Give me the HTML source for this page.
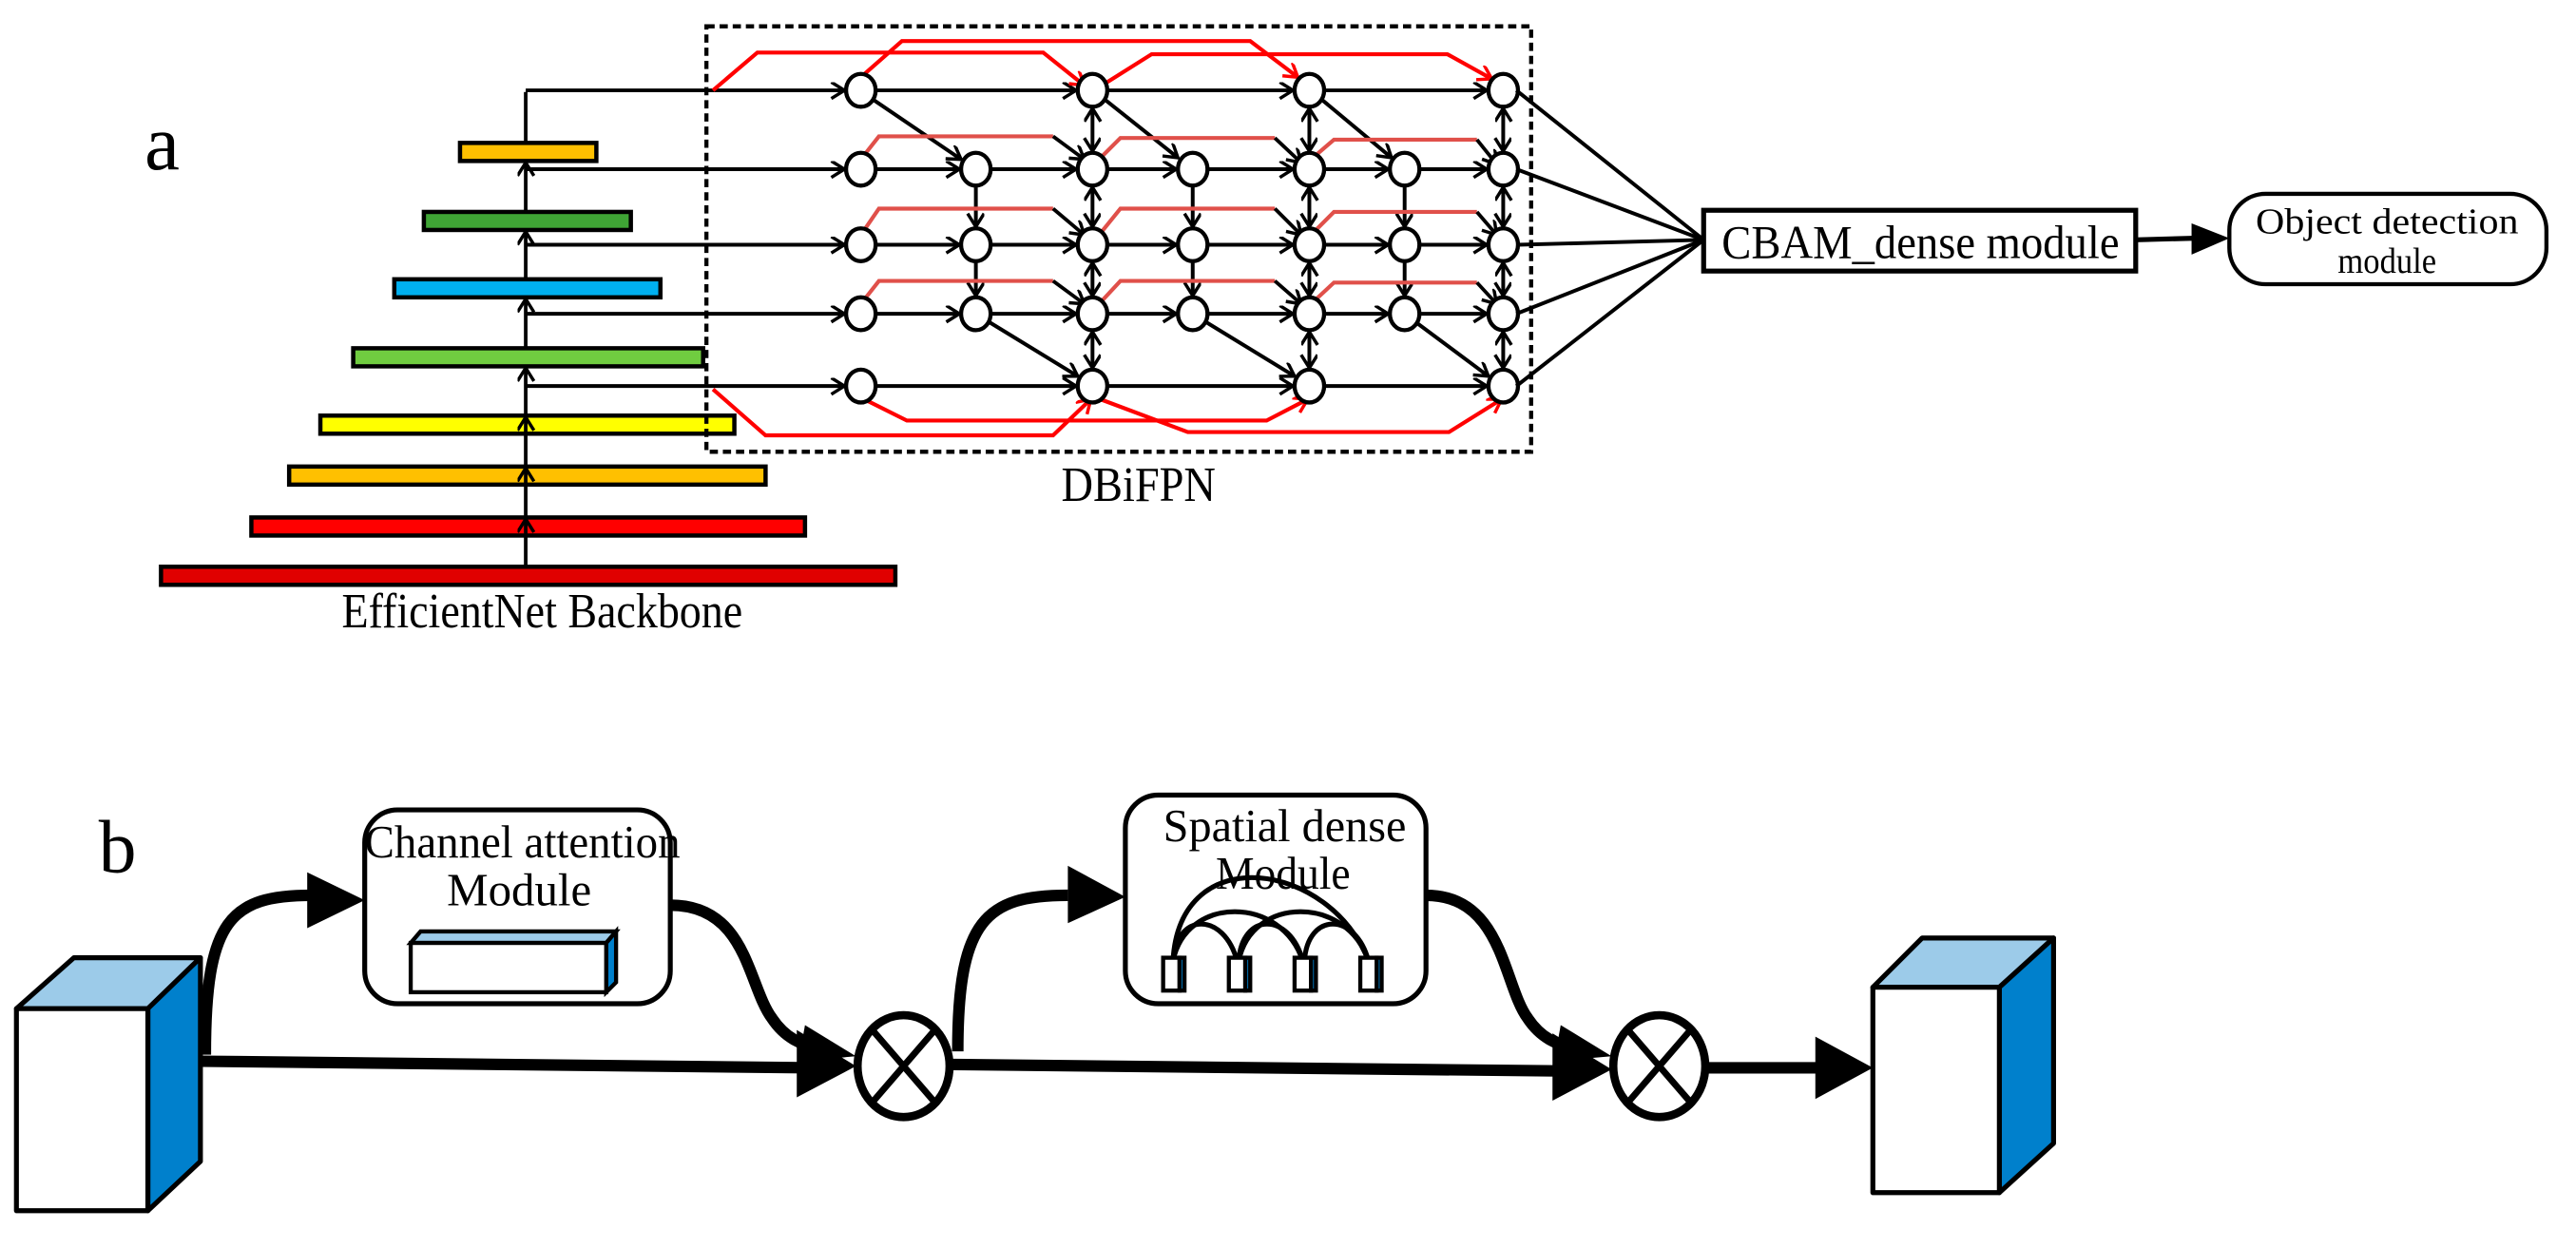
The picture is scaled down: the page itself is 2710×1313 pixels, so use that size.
<!DOCTYPE html>
<html><head><meta charset="utf-8"><style>html,body{margin:0;padding:0;background:#fff}svg{display:block}</style></head>
<body>
<svg width="2710" height="1313" viewBox="0 0 1568 759.7" xmlns="http://www.w3.org/2000/svg" font-family="'Liberation Serif', serif">
<defs>
<marker id="k" markerUnits="userSpaceOnUse" markerWidth="12" markerHeight="12" refX="9" refY="5" orient="auto-start-reverse"><path d="M1,0 L9,5 L1,10" fill="none" stroke="#000" stroke-width="2"/></marker>
<marker id="r" markerUnits="userSpaceOnUse" markerWidth="12" markerHeight="12" refX="9" refY="5" orient="auto"><path d="M1,0 L9,5 L1,10" fill="none" stroke="#f00" stroke-width="2"/></marker>
<marker id="r2" markerUnits="userSpaceOnUse" markerWidth="12" markerHeight="12" refX="9" refY="5" orient="auto"><path d="M1,0 L9,5 L1,10" fill="none" stroke="#000" stroke-width="2"/></marker>
</defs>

<text x="88" y="103" font-size="48">a</text>

<g stroke="#000" stroke-width="2.6">
<rect x="280" y="87" width="83" height="11" fill="#ffc000"/>
<rect x="258" y="129" width="126" height="11" fill="#3fa535"/>
<rect x="240" y="170" width="162" height="11" fill="#00b0f0"/>
<rect x="215" y="212" width="213" height="11" fill="#70cc40"/>
<rect x="195" y="253" width="252" height="11" fill="#ffff00"/>
<rect x="176" y="284" width="290" height="11" fill="#ffc000"/>
<rect x="153" y="315" width="337" height="11" fill="#ff0000"/>
<rect x="98" y="345" width="447" height="11" fill="#e00000"/>
</g>
<g stroke="#000" stroke-width="2.2" fill="none" marker-end="url(#k)">
<path d="M320,345 V316"/><path d="M320,315 V285"/><path d="M320,284 V254"/><path d="M320,253 V224"/>
<path d="M320,212 V182"/><path d="M320,170 V141"/><path d="M320,129 V99"/><path d="M320,87 V56" marker-end="none"/>
</g>

<text x="330" y="382" font-size="30" text-anchor="middle" textLength="244" lengthAdjust="spacingAndGlyphs">EfficientNet Backbone</text>

<rect x="430" y="16" width="502" height="259" fill="none" stroke="#000" stroke-width="2.5" stroke-dasharray="5,3"/>
<text x="646" y="305" font-size="30" textLength="94" lengthAdjust="spacingAndGlyphs">DBiFPN</text>

<g stroke="#000" stroke-width="2.3" fill="none" marker-end="url(#k)">
<path d="M320,55 H514"/><path d="M533,55 H655"/><path d="M674,55 H787"/><path d="M806,55 H905"/>
<path d="M320,235 H514"/><path d="M533,235 H655"/><path d="M674,235 H787"/><path d="M806,235 H905"/>
<path d="M320,103 H514"/><path d="M533,103 H584"/><path d="M603,103 H655"/><path d="M674,103 H716"/><path d="M735,103 H787"/><path d="M806,103 H845"/><path d="M864,103 H905"/>
<path d="M320,149 H514"/><path d="M533,149 H584"/><path d="M603,149 H655"/><path d="M674,149 H716"/><path d="M735,149 H787"/><path d="M806,149 H845"/><path d="M864,149 H905"/>
<path d="M320,191 H514"/><path d="M533,191 H584"/><path d="M603,191 H655"/><path d="M674,191 H716"/><path d="M735,191 H787"/><path d="M806,191 H845"/><path d="M864,191 H905"/>
<path d="M594,114 V138"/><path d="M594,160 V180"/>
<path d="M726,114 V138"/><path d="M726,160 V180"/>
<path d="M855,114 V138"/><path d="M855,160 V180"/>
<path d="M532,61 L585,97"/><path d="M673,61 L717,96"/><path d="M805,61 L847,96"/>
<path d="M602,196 L656,229"/><path d="M734,196 L788,229"/><path d="M863,197 L906,229"/>
</g>
<g stroke="#000" stroke-width="2.3" fill="none" marker-start="url(#k)" marker-end="url(#k)">
<path d="M665,66 V92"/><path d="M665,114 V138"/><path d="M665,160 V180"/><path d="M665,202 V224"/>
<path d="M797,66 V92"/><path d="M797,114 V138"/><path d="M797,160 V180"/><path d="M797,202 V224"/>
<path d="M915,66 V92"/><path d="M915,114 V138"/><path d="M915,160 V180"/><path d="M915,202 V224"/>
</g>

<g stroke="#ff0000" stroke-width="2.4" fill="none" marker-end="url(#r)">
<path d="M434,55 L461,32 L635,32 L660,52"/>
<path d="M524,47 L549,25 L761,25 L790,47"/>
<path d="M674,50 L701,33 L881,33 L908,48"/>
<path d="M434,237 L466,265 L641,265 L664,243"/>
<path d="M524,242 L552,256 L771,256 L796,243"/>
<path d="M667,242 L723,263 L882,263 L914,243"/>
</g>
<g stroke="#e0504a" stroke-width="2.4" fill="none">
<path d="M524,97 L535,83 L641,83"/><path d="M669,97 L682,84 L776,84"/><path d="M798,97 L812,85 L899,85"/>
<path d="M524,143 L535,127 L641,127"/><path d="M669,143 L682,127 L776,127"/><path d="M798,143 L812,129 L899,129"/>
<path d="M524,185 L535,171 L641,171"/><path d="M669,185 L682,171 L776,171"/><path d="M798,185 L812,172 L899,172"/>
</g>
<g stroke="#000" stroke-width="2.2" fill="none" marker-end="url(#r2)">
<path d="M641,83 L660,97"/><path d="M776,84 L792,99"/><path d="M899,85 L911,100"/>
<path d="M641,127 L660,143"/><path d="M776,127 L792,143"/><path d="M899,129 L911,143"/>
<path d="M641,171 L660,185"/><path d="M776,171 L792,185"/><path d="M899,172 L911,185"/>
</g>

<g fill="#fff" stroke="#000" stroke-width="2.5">
<ellipse cx="524" cy="55" rx="9" ry="10"/><ellipse cx="665" cy="55" rx="9" ry="10"/><ellipse cx="797" cy="55" rx="9" ry="10"/><ellipse cx="915" cy="55" rx="9" ry="10"/>
<ellipse cx="524" cy="235" rx="9" ry="10"/><ellipse cx="665" cy="235" rx="9" ry="10"/><ellipse cx="797" cy="235" rx="9" ry="10"/><ellipse cx="915" cy="235" rx="9" ry="10"/>
<ellipse cx="524" cy="103" rx="9" ry="10"/><ellipse cx="594" cy="103" rx="9" ry="10"/><ellipse cx="665" cy="103" rx="9" ry="10"/><ellipse cx="726" cy="103" rx="9" ry="10"/><ellipse cx="797" cy="103" rx="9" ry="10"/><ellipse cx="855" cy="103" rx="9" ry="10"/><ellipse cx="915" cy="103" rx="9" ry="10"/>
<ellipse cx="524" cy="149" rx="9" ry="10"/><ellipse cx="594" cy="149" rx="9" ry="10"/><ellipse cx="665" cy="149" rx="9" ry="10"/><ellipse cx="726" cy="149" rx="9" ry="10"/><ellipse cx="797" cy="149" rx="9" ry="10"/><ellipse cx="855" cy="149" rx="9" ry="10"/><ellipse cx="915" cy="149" rx="9" ry="10"/>
<ellipse cx="524" cy="191" rx="9" ry="10"/><ellipse cx="594" cy="191" rx="9" ry="10"/><ellipse cx="665" cy="191" rx="9" ry="10"/><ellipse cx="726" cy="191" rx="9" ry="10"/><ellipse cx="797" cy="191" rx="9" ry="10"/><ellipse cx="855" cy="191" rx="9" ry="10"/><ellipse cx="915" cy="191" rx="9" ry="10"/>
</g>

<g stroke="#000" stroke-width="2.3">
<path d="M923,55 L1037,146"/><path d="M923,103 L1037,146"/><path d="M924,149 L1037,146"/><path d="M923,191 L1037,146"/><path d="M923,235 L1037,146"/>
</g>
<rect x="1037" y="128" width="263" height="37" fill="#fff" stroke="#000" stroke-width="3"/>
<text x="1048" y="157" font-size="29" textLength="242" lengthAdjust="spacingAndGlyphs">CBAM_dense module</text>
<path d="M1300,146 L1336,145" stroke="#000" stroke-width="3"/>
<path d="M1334,136 L1357,145 L1334,155 Z" fill="#000"/>
<rect x="1357" y="118" width="193" height="55" rx="22" fill="#fff" stroke="#000" stroke-width="2.5"/>
<text x="1453" y="142" font-size="22" text-anchor="middle" textLength="160" lengthAdjust="spacingAndGlyphs">Object detection</text>
<text x="1453" y="166" font-size="22" text-anchor="middle" textLength="60" lengthAdjust="spacingAndGlyphs">module</text>

<text x="60" y="531" font-size="46">b</text>

<g stroke="#000" stroke-width="3" stroke-linejoin="round">
<polygon points="10,614 45,583 122,583 90,614" fill="#9ccbe9"/>
<polygon points="90,614 122,583 122,707 90,737" fill="#0080cc"/>
<rect x="10" y="614" width="80" height="123" fill="#fff"/>
<polygon points="1140,601 1170,571 1250,571 1217,601" fill="#9ccbe9"/>
<polygon points="1217,601 1250,571 1250,696 1217,726" fill="#0080cc"/>
<rect x="1140" y="601" width="77" height="125" fill="#fff"/>
</g>

<rect x="222" y="493" width="186" height="118" rx="20" fill="#fff" stroke="#000" stroke-width="3"/>
<text x="222" y="522" font-size="28" textLength="192" lengthAdjust="spacingAndGlyphs">Channel attention</text>
<text x="272" y="551" font-size="28" textLength="88" lengthAdjust="spacingAndGlyphs">Module</text>
<g stroke="#000" stroke-width="2.5">
<polygon points="250,574 256,567 375,567 369,574" fill="#9ccbe9"/>
<polygon points="369,574 375,567 375,598 369,604" fill="#0080cc"/>
<rect x="250" y="574" width="119" height="30" fill="#fff"/>
</g>

<rect x="685" y="484" width="183" height="127" rx="20" fill="#fff" stroke="#000" stroke-width="3"/>
<text x="708" y="512" font-size="28" textLength="148" lengthAdjust="spacingAndGlyphs">Spatial dense</text>
<text x="740" y="541" font-size="28" textLength="82" lengthAdjust="spacingAndGlyphs">Module</text>
<g stroke="#000" stroke-width="3" fill="none">
<path d="M714,585 C716,555 745,555 753,585"/>
<path d="M754,585 C756,555 785,555 793,585"/>
<path d="M794,585 C796,555 825,555 833,585"/>
<path d="M714,585 C722,545 780,545 793,585"/>
<path d="M754,585 C762,545 820,545 833,585"/>
<path d="M714,585 C718,510 810,525 833,585"/>
</g>
<g stroke="#000" stroke-width="2.5">
<rect x="708" y="583" width="10" height="20" fill="#fff"/><rect x="718" y="583" width="3" height="20" fill="#0080cc"/>
<rect x="748" y="583" width="10" height="20" fill="#fff"/><rect x="758" y="583" width="3" height="20" fill="#0080cc"/>
<rect x="788" y="583" width="10" height="20" fill="#fff"/><rect x="798" y="583" width="3" height="20" fill="#0080cc"/>
<rect x="828" y="583" width="10" height="20" fill="#fff"/><rect x="838" y="583" width="3" height="20" fill="#0080cc"/>
</g>

<g stroke="#000" stroke-width="7" fill="none">
<path d="M122,646 L495,650"/>
<path d="M580,648 L955,652"/>
<path d="M1040,650 L1115,650"/>
<path d="M125,642 C125,560 140,545 190,545"/>
<path d="M408,551 C455,551 455,600 470,620 C478,632 488,636 498,638"/>
<path d="M583,640 C583,560 600,545 650,545"/>
<path d="M868,545 C915,545 915,600 930,620 C938,632 948,636 958,638"/>
</g>
<g fill="#000">
<path d="M485,627 L521,649 L485,668 Z"/>
<path d="M945,629 L981,651 L945,670 Z"/>
<path d="M1105,631 L1140,650 L1105,669 Z"/>
<path d="M187,531 L222,548 L187,565 Z"/>
<path d="M650,527 L685,546 L650,562 Z"/>
<path d="M490,624 L521,643 L486,646 Z"/>
<path d="M950,624 L981,643 L946,646 Z"/>
</g>
<g stroke="#000" stroke-width="5" fill="#fff">
<ellipse cx="550" cy="649" rx="28" ry="31"/>
<ellipse cx="1010" cy="649" rx="28" ry="31"/>
</g>
<g stroke="#000" stroke-width="4">
<path d="M531,627 L569,671 M569,627 L531,671"/>
<path d="M991,627 L1029,671 M1029,627 L991,671"/>
</g>
</svg>
</body></html>
